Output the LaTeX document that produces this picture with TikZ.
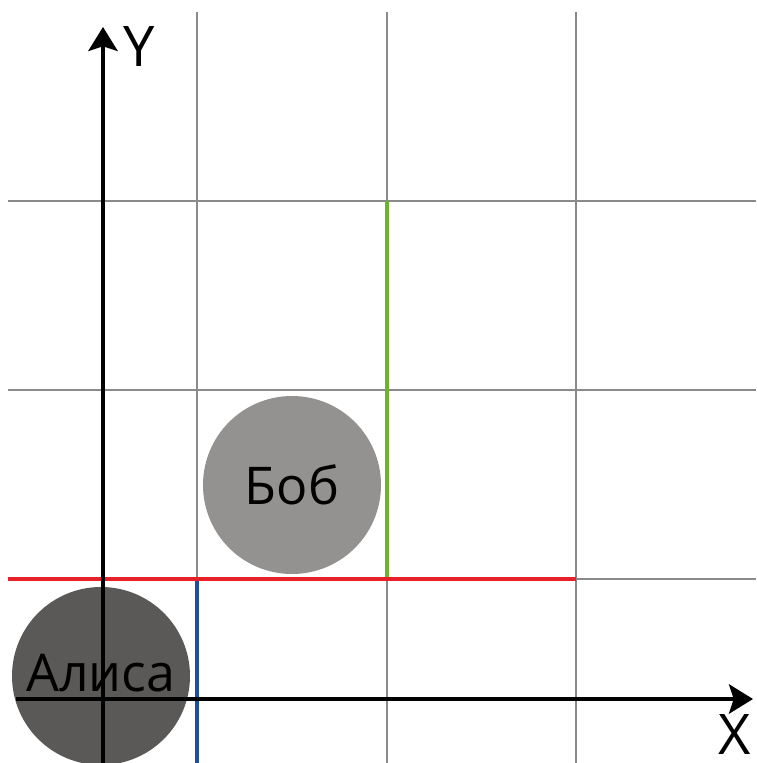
\documentclass[tikz,border=0pt]{standalone}
\usepackage{fontspec}
\setmainfont{Open Sans}
\usepackage{xcolor}
\usepackage{tikz}
\usetikzlibrary{arrows.meta, positioning}

\definecolor{gridgray}{HTML}{8A8A8A}
\definecolor{alicegray}{HTML}{5A5957}
\definecolor{bobgray}{HTML}{939290}
\definecolor{linered}{HTML}{E8202A}
\definecolor{lineblue}{HTML}{1F4E9C}
\definecolor{linegreen}{HTML}{6AB42E}

\begin{document}
\begin{tikzpicture}[x=0.75pt, y=-0.75pt]
        \tikzstyle{gridline} = [draw=gridgray, line width=1.1pt]
        \tikzstyle{mark line} = [line width=3.5pt]
        \tikzstyle{person} = [circle, minimum size=133.5pt, inner sep=0pt, text centered, font=\fontsize{39}{39}\selectfont]
        \tikzstyle{axis} = [line width=2.8pt, -{Stealth[length=18pt, width=22pt, inset=3.5pt]}]
        \tikzstyle{axislabel} = [inner sep=0pt, font=\fontsize{42}{42}\selectfont]

        \useasboundingbox (0,0) rectangle (756,763);

        % grid
        \draw [gridline] (197,12) -- (197,763);
        \draw [gridline] (387,12) -- (387,763);
        \draw [gridline] (576,12) -- (576,763);
        \draw [gridline] (8,201) -- (756,201);
        \draw [gridline] (8,390) -- (756,390);
        \draw [gridline] (8,579) -- (756,579);

        % coloured segments
        \draw [mark line, linered] (8,579) -- (576,579);
        \draw [mark line, lineblue] (197,581) -- (197,763);
        \draw [mark line, linegreen] (387,201) -- (387,577);

        \node (alice) [person, fill=alicegray] at (101,676) {\raisebox{5pt}{Алиса}};
        \node (bob) [person, fill=bobgray] at (292,485) {Боб};

        % axes
        \coordinate (yfoot) at (103,763);
        \coordinate (ytip) at (103,27);
        \coordinate (xfoot) at (16,699);
        \coordinate (xtip) at (753,699);
        \draw [axis] (yfoot) -- (ytip);
        \draw [axis] (xfoot) -- (xtip);

        \node (ylabel) [axislabel] at (139,47) {Y};
        \node (xlabel) [axislabel] at (735,735) {X};
    \end{tikzpicture}
\end{document}
